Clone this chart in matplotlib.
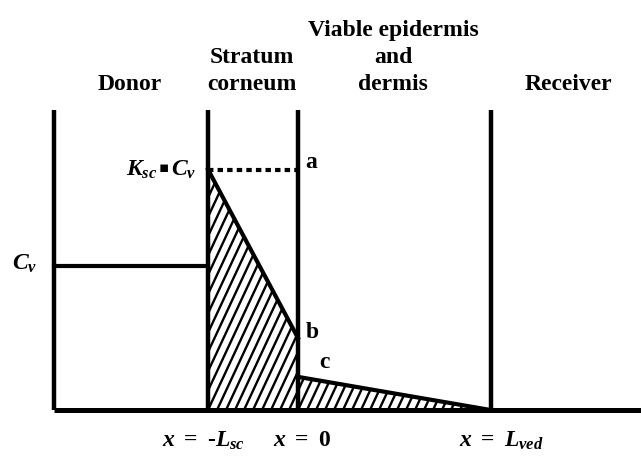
import numpy as np
import matplotlib
import matplotlib.pyplot as plt
from matplotlib.patches import Polygon

matplotlib.use("Agg")

plt.rcParams["font.family"] = ["Liberation Serif", "DejaVu Sans"]
plt.rcParams["font.weight"] = "bold"
plt.rcParams["mathtext.fontset"] = "custom"
plt.rcParams["mathtext.rm"] = "Liberation Serif:bold"
plt.rcParams["mathtext.it"] = "Liberation Serif:bold:italic"
plt.rcParams["mathtext.bf"] = "Liberation Serif:bold"

# layer boundaries (x in units of L_sc, x = 0 at SC / VED interface)
x_donor = -2.71
x_sc = -1.0
x_0 = 0.0
x_ved = 2.14
x_end = 3.85
wall_top = 2.08

# concentrations (in units of C_v)
C_v = 1.0
K_sc = 1.67
C_b = 0.50   # point b, SC side of interface
C_c = 0.23   # point c, VED side of interface

region_names = ["Donor", "Stratum\ncorneum", "Viable epidermis\nand\ndermis", "Receiver"]

W, H = 641, 462
XPX, YPX = 90.0, 144.0  # pixels per unit


def px(x, y):
    return x / W, 1 - y / H


def hatch(ax, verts, angle=65, step=0.1):
    poly = Polygon(verts, closed=True, facecolor="none", edgecolor="none")
    ax.add_patch(poly)
    slope = np.tan(np.radians(angle)) * XPX / YPX
    for x0 in np.arange(-3.0, 3.0, step):
        (ln,) = ax.plot([x0, x0 + 2.5 / slope], [0, 2.5], color="black", lw=1.7)
        ln.set_clip_path(poly)


fig = plt.figure(figsize=(W / 100, H / 100), dpi=100)
ax = fig.add_axes([0, 0, 1, 1])
ax.set_xlim(-298 / XPX, (W - 298) / XPX)
ax.set_ylim(-(H - 410) / YPX, 410 / YPX)
ax.axis("off")

# hatched concentration profiles
hatch(ax, [(x_sc, 0), (x_sc, K_sc), (x_0, C_b), (x_0, 0)])
hatch(ax, [(x_0, 0), (x_0, C_c), (x_ved, 0)])

ax.plot([x_sc, x_0], [K_sc, C_b], color="black", lw=3)
ax.plot([x_0, x_ved], [C_c, 0], color="black", lw=3)
ax.plot([x_sc, x_0], [K_sc, K_sc], color="black", lw=3, linestyle=(0, (1.3, 1.0)))
ax.plot([x_donor, x_sc], [C_v, C_v], color="black", lw=3)

# walls and baseline
for xb in [x_donor, x_sc, x_0, x_ved]:
    ax.plot([xb, xb], [0, wall_top], color="black", lw=3.2, solid_capstyle="butt")
ax.plot([x_donor, x_end], [0, 0], color="black", lw=3.6, solid_capstyle="butt")

# region headings
fs = 17
ax.text(*px(130, 90), region_names[0], transform=ax.transAxes, ha="center", va="baseline", fontsize=fs, fontweight="bold")
ax.text(*px(252, 90), region_names[1], transform=ax.transAxes, ha="center", va="baseline", fontsize=fs, fontweight="bold", linespacing=1.38)
ax.text(*px(393, 90), region_names[2], transform=ax.transAxes, ha="center", va="baseline", fontsize=fs, fontweight="bold", linespacing=1.38)
ax.text(*px(568, 90), region_names[3], transform=ax.transAxes, ha="center", va="baseline", fontsize=fs, fontweight="bold")

# concentration labels
ax.text(*px(157, 170), r"$K_{sc}$", transform=ax.transAxes, ha="right", va="center", fontsize=fs)
ax.text(*px(164, 168), "\u25aa", transform=ax.transAxes, ha="center", va="center", fontsize=11, family="DejaVu Sans")
ax.text(*px(171, 170), r"$C_v$", transform=ax.transAxes, ha="left", va="center", fontsize=fs)
ax.text(*px(25, 264), r"$C_v$", transform=ax.transAxes, ha="center", va="center", fontsize=fs)
ax.text(*px(305, 163), "a", transform=ax.transAxes, ha="left", va="center", fontsize=fs, fontweight="bold")
ax.text(*px(306, 333), "b", transform=ax.transAxes, ha="left", va="center", fontsize=fs, fontweight="bold")
ax.text(*px(319, 362), "c", transform=ax.transAxes, ha="left", va="center", fontsize=fs, fontweight="bold")

# position labels
ax.text(*px(203, 441), r"$x\ =\ $-$L_{sc}$", transform=ax.transAxes, ha="center", va="center", fontsize=fs)
ax.text(*px(302, 441), r"$x\ =\ 0$", transform=ax.transAxes, ha="center", va="center", fontsize=fs)
ax.text(*px(501, 441), r"$x\ =\ L_{ved}$", transform=ax.transAxes, ha="center", va="center", fontsize=fs)

fig.savefig("out.png", dpi=100)
